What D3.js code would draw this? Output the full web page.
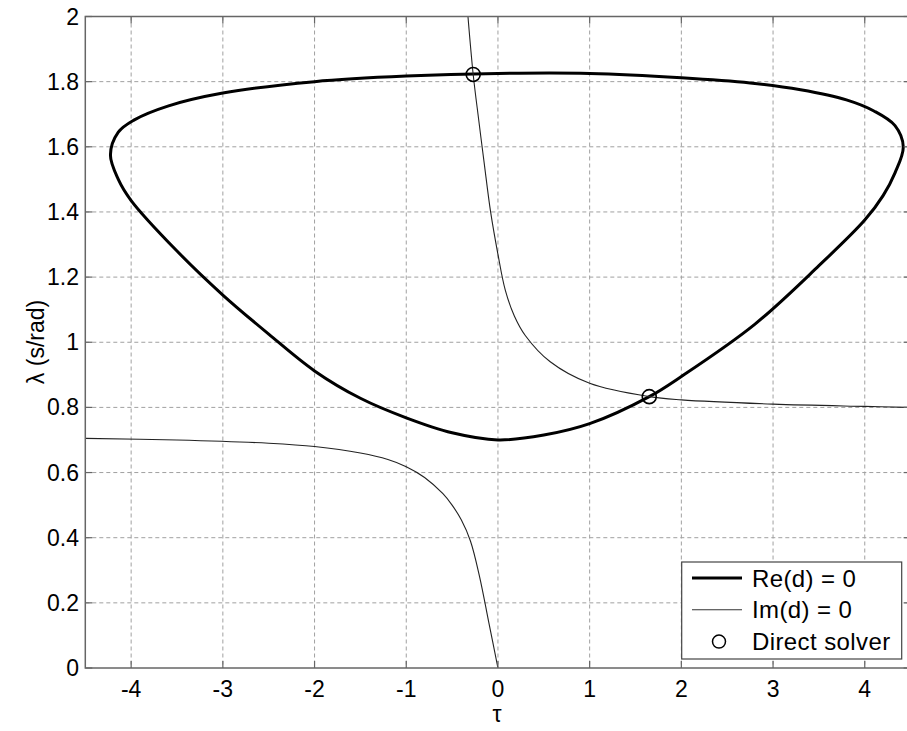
<!DOCTYPE html>
<html><head><meta charset="utf-8">
<script src="https://cdn.jsdelivr.net/npm/d3@7"></script>
<style>body{margin:0;background:#fff}svg{display:block}text{font-family:"Liberation Sans",Arial,sans-serif}</style>
</head><body>
<svg id="c" width="907" height="731"></svg>
<script>
const xTicks = [-4,-3,-2,-1,0,1,2,3,4];
const yTicks = [0,0.2,0.4,0.6,0.8,1,1.2,1.4,1.6,1.8,2];
const yTickLabels = ["0","0.2","0.4","0.6","0.8","1","1.2","1.4","1.6","1.8","2"];
// Re(d)=0 closed loop (tau, lambda)
const reLoop = [
 [0,0.70],[0.5,0.715],[1,0.75],[1.65,0.833],[2,0.895],[2.8,1.055],[3.5,1.235],[4.0,1.375],[4.2,1.45],[4.33,1.52],[4.42,1.60],
 [4.33,1.665],[4.1,1.71],[3.8,1.744],[3.3,1.775],[2.75,1.796],[2,1.812],[1,1.825],[0,1.825],[-1,1.817],[-2,1.80],
 [-3,1.765],[-3.6,1.725],[-3.97,1.682],[-4.14,1.645],[-4.226,1.575],[-4.14,1.50],[-4.0,1.435],[-3.5,1.28],[-3,1.145],
 [-2.5,1.025],[-2,0.912],[-1.5,0.828],[-1,0.768],[-0.5,0.722]
];
// Im(d)=0 upper branch
const imUpper = [
 [-0.327,2.0],[-0.27,1.822],[-0.21,1.683],[-0.15,1.55],[-0.08,1.40],[0,1.27],[0.08,1.16],[0.18,1.08],[0.3,1.02],[0.57,0.94],[1,0.874],[1.65,0.833],[2,0.823],[3,0.81],[4,0.803],[4.5,0.80]
];
// Im(d)=0 lower branch
const imLower = [
 [-4.5,0.705],[-3.5,0.70],[-2.5,0.69],[-2,0.68],[-1.5,0.66],[-1.2,0.64],[-1,0.618],[-0.8,0.585],[-0.6,0.535],[-0.5,0.50],[-0.4,0.455],[-0.3,0.39],[-0.2,0.28],[-0.1,0.14],[0,0]
];
// Direct solver points
const solverPts = [[-0.27,1.822],[1.65,0.833]];

const svg = d3.select("#c");
const L=85.3, R=910.6, T=16.5, B=668;
const x = d3.scaleLinear().domain([-4.5,4.5]).range([L,R]);
const y = d3.scaleLinear().domain([0,2]).range([B,T]);

const g = svg.append("g");
g.selectAll(".gx").data(xTicks).join("line")
 .attr("x1",d=>x(d)).attr("x2",d=>x(d)).attr("y1",T).attr("y2",B)
 .attr("stroke","#a0a0a0").attr("stroke-width",1).attr("stroke-dasharray","4,3");
g.selectAll(".gy").data(yTicks.slice(1,-1)).join("line")
 .attr("y1",d=>y(d)).attr("y2",d=>y(d)).attr("x1",L).attr("x2",R)
 .attr("stroke","#a0a0a0").attr("stroke-width",1).attr("stroke-dasharray","4,3");

svg.append("clipPath").attr("id","clp").append("rect").attr("x",L).attr("y",T).attr("width",R-L).attr("height",B-T);
const pl = svg.append("g").attr("clip-path","url(#clp)");

const loopLine = d3.line().x(d=>x(d[0])).y(d=>y(d[1])).curve(d3.curveCatmullRomClosed.alpha(0.5));
pl.append("path").datum(reLoop).attr("d",loopLine)
 .attr("fill","none").attr("stroke","#000").attr("stroke-width",3);
const line2 = d3.line().x(d=>x(d[0])).y(d=>y(d[1])).curve(d3.curveCatmullRom.alpha(0.5));
pl.append("path").datum(imUpper).attr("d",line2).attr("fill","none").attr("stroke","#222").attr("stroke-width",1.1);
pl.append("path").datum(imLower).attr("d",line2).attr("fill","none").attr("stroke","#222").attr("stroke-width",1.1);
pl.selectAll(".pt").data(solverPts).join("circle").attr("cx",d=>x(d[0])).attr("cy",d=>y(d[1])).attr("r",7)
 .attr("fill","none").attr("stroke","#000").attr("stroke-width",1.6);

const axc="#666";
svg.append("rect").attr("x",L).attr("y",T).attr("width",R-L).attr("height",B-T).attr("fill","none").attr("stroke",axc).attr("stroke-width",1.5);
const tl=7;
xTicks.forEach(t=>{
 svg.append("line").attr("x1",x(t)).attr("x2",x(t)).attr("y1",B).attr("y2",B-tl).attr("stroke",axc).attr("stroke-width",1.2);
 svg.append("line").attr("x1",x(t)).attr("x2",x(t)).attr("y1",T).attr("y2",T+tl).attr("stroke",axc).attr("stroke-width",1.2);
});
yTicks.forEach(t=>{
 svg.append("line").attr("y1",y(t)).attr("y2",y(t)).attr("x1",L).attr("x2",L+tl).attr("stroke",axc).attr("stroke-width",1.2);
 svg.append("line").attr("y1",y(t)).attr("y2",y(t)).attr("x1",R).attr("x2",R-tl).attr("stroke",axc).attr("stroke-width",1.2);
});
svg.selectAll(".xl").data(xTicks).join("text").attr("x",d=>x(d)).attr("y",697).attr("text-anchor","middle")
 .attr("font-size",23).attr("fill","#000").text(d=>String(d));
svg.selectAll(".yl").data(yTicks).join("text").attr("x",79).attr("y",d=>y(d)+8).attr("text-anchor","end")
 .attr("font-size",23).attr("fill","#000").text((d,i)=>yTickLabels[i]);
svg.append("text").attr("x",497).attr("y",722).attr("text-anchor","middle").attr("font-size",23).text("τ");
svg.append("text").attr("transform","translate(44,342) rotate(-90)").attr("text-anchor","middle").attr("font-size",23).text("λ (s/rad)");

const lg = svg.append("g");
lg.append("rect").attr("x",681.7).attr("y",562).attr("width",220).attr("height",97).attr("fill","#fff").attr("stroke","#444").attr("stroke-width",1.2);
const items=[{t:"Re(d) = 0",w:3,c:"#000"},{t:"Im(d) = 0",w:1.1,c:"#333"},{t:"Direct solver",m:true}];
items.forEach((it,i)=>{
 const yy=578+i*31.8;
 if(it.m){ lg.append("circle").attr("cx",719).attr("cy",yy).attr("r",6.5).attr("fill","none").attr("stroke","#000").attr("stroke-width",1.5); }
 else { lg.append("line").attr("x1",692).attr("x2",742).attr("y1",yy).attr("y2",yy).attr("stroke",it.c).attr("stroke-width",it.w); }
 lg.append("text").attr("x",752).attr("y",yy+8.5).attr("font-size",24).attr("letter-spacing",0.4).attr("fill","#000").text(it.t);
});
</script>
</body></html>
